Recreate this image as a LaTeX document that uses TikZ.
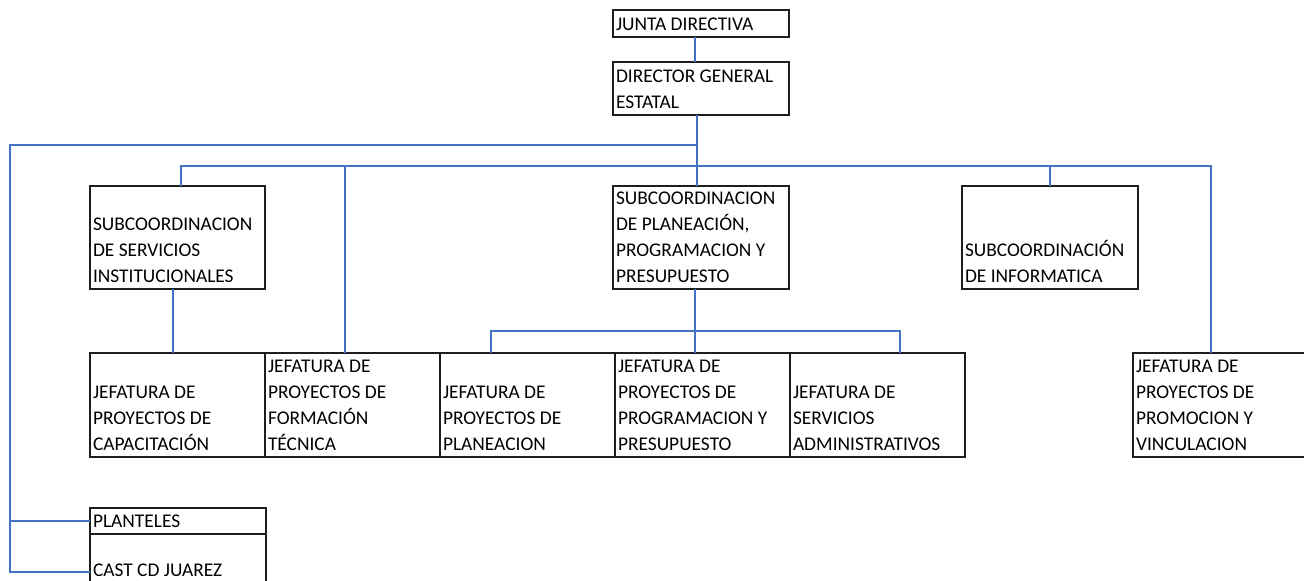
\documentclass[tikz,border=0pt]{standalone}
\usepackage{fontspec}
\setmainfont{Carlito}
\usepackage{xcolor}
\definecolor{linkblue}{RGB}{68,114,196}
\definecolor{boxline}{RGB}{30,30,30}
\tikzset{
  orgbox/.style 2 args={draw=boxline, line width=1pt, anchor=north west, outer sep=0pt,
    inner xsep=1.5pt, inner ysep=3pt,
    execute at begin node={\begin{minipage}[c][\dimexpr#2-6pt\relax][b]{\dimexpr#1-3pt\relax}\raggedright},
    execute at end node={\end{minipage}}},
  link/.style={draw=linkblue, line width=1.1pt},
}

\begin{document}
\begin{tikzpicture}[x=0.5pt, y=-0.5pt, font=\fontsize{9.7}{13}\selectfont]
    \path[use as bounding box, fill=white] (0,0) rectangle (1304,581);

    % Top of the chart
    \node[orgbox={88pt}{13.5pt}] (junta) at (613,10) {JUNTA DIRECTIVA};
    \node[orgbox={88pt}{26.5pt}] (director) at (613,62) {DIRECTOR GENERAL\\ESTATAL};

    % Subcoordinaciones
    \node[orgbox={87.5pt}{51.5pt}] (servicios) at (90,186) {SUBCOORDINACION\\DE SERVICIOS\\INSTITUCIONALES};
    \node[orgbox={88pt}{51.5pt}] (plan) at (613,186) {SUBCOORDINACION\\DE PLANEACIÓN,\\PROGRAMACION Y\\PRESUPUESTO};
    \node[orgbox={88pt}{51.5pt}] (informatica) at (962,186) {SUBCOORDINACIÓN\\DE INFORMATICA};

    % Jefaturas
    \node[orgbox={87.5pt}{52pt}] (capacitacion) at (90,353) {JEFATURA DE\\PROYECTOS DE\\CAPACITACIÓN};
    \node[orgbox={87.5pt}{52pt}] (formacion) at (265,353) {JEFATURA DE\\PROYECTOS DE\\FORMACIÓN\\TÉCNICA};
    \node[orgbox={87.5pt}{52pt}] (planeacion) at (440,353) {JEFATURA DE\\PROYECTOS DE\\PLANEACION};
    \node[orgbox={87.5pt}{52pt}] (programacion) at (615,353) {JEFATURA DE\\PROYECTOS DE\\PROGRAMACION Y\\PRESUPUESTO};
    \node[orgbox={87.5pt}{52pt}] (administrativos) at (790,353) {JEFATURA DE\\SERVICIOS\\ADMINISTRATIVOS};
    \node[orgbox={88pt}{52pt}] (promocion) at (1133,353) {JEFATURA DE\\PROYECTOS DE\\PROMOCION Y\\VINCULACION};

    % Planteles
    \node[orgbox={88pt}{13pt}] (planteles) at (90,508) {PLANTELES};
    \node[orgbox={88pt}{24.5pt}] (cast) at (90,534) {CAST CD JUAREZ};

    % Junta -> director -> subcoordinacion de planeacion
    \draw[link] ([xshift=-3pt]junta.south) -- ([xshift=-3pt]director.north);
    \draw[link] ([xshift=-2pt]director.south) -- ([xshift=-2pt]plan.north);

    % Left branch down to the planteles
    \coordinate (leftbus) at (10,145);
    \draw[link] ([xshift=-2pt]director.south |- leftbus) -- (leftbus) |- ([yshift=5.5pt]cast.south west);
    \draw[link] (leftbus |- planteles.west) -- (planteles.west);

    % Bus of the subcoordinaciones
    \coordinate (bus) at (697,166);
    \draw[link] ([xshift=1.75pt]servicios.north) |- (bus) -| ([xshift=-5pt]promocion.north);
    \draw[link] ([xshift=-3.75pt]formacion.north) -- ([xshift=-3.75pt]formacion.north |- bus);
    \draw[link] (informatica.north) -- (informatica.north |- bus);

    % Under servicios
    \draw[link] ([xshift=-2.25pt]servicios.south) -- ([xshift=-2.25pt]servicios.south |- capacitacion.north);

    % Under planeacion
    \coordinate (planbus) at (695,331);
    \draw[link] ([xshift=-3pt]plan.south) -- ([xshift=-3pt]plan.south |- programacion.north);
    \draw[link] ([xshift=-18.25pt]planeacion.north) |- (planbus) -| ([xshift=11.25pt]administrativos.north);
\end{tikzpicture}
\end{document}
